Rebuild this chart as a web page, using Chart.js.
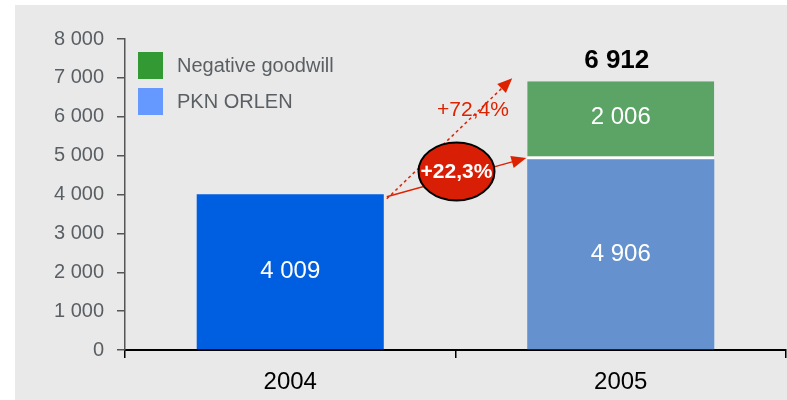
<!DOCTYPE html>
<html>
<head>
<meta charset="utf-8">
<script src="https://cdn.jsdelivr.net/npm/chart.js@4/dist/chart.umd.min.js"></script>
<style>
  html, body { margin: 0; padding: 0; background: #fff; }
  #wrap { width: 787px; height: 400px; }
</style>
</head>
<body>
<div id="wrap"><canvas id="chart" width="787" height="400"></canvas></div>
<script>
const years = ['2004', '2005']
const pknOrlen = [4009, 4906]
const negativeGoodwill = [null, 2006]
const legendNames = ['Negative goodwill', 'PKN ORLEN']
const growthTotal = '+72,4%'
const growthPkn = '+22,3%'

const fmt = (n) => String(n).replace(/\B(?=(\d{3})+(?!\d))/g, ' ')
const FONT = '"Liberation Sans", Arial, sans-serif'

const backgroundPlugin = {
    id: 'bg',
    beforeDraw: (chart) => {
        const ctx = chart.ctx
        ctx.save()
        ctx.fillStyle = '#e9e9e9'
        ctx.fillRect(15, 5, chart.width - 15, chart.height - 5)
        ctx.restore()
    }
}

const arrow = (ctx, x1, y1, x2, y2, dashed) => {
    const ang = Math.atan2(y2 - y1, x2 - x1)
    const head = 16
    ctx.save()
    ctx.strokeStyle = '#dd2200'
    ctx.fillStyle = '#dd2200'
    ctx.lineWidth = 1.5
    if (dashed) ctx.setLineDash([3, 3])
    ctx.beginPath()
    ctx.moveTo(x1, y1)
    ctx.lineTo(x2 - Math.cos(ang) * head * 0.8, y2 - Math.sin(ang) * head * 0.8)
    ctx.stroke()
    ctx.setLineDash([])
    ctx.beginPath()
    ctx.moveTo(x2, y2)
    ctx.lineTo(x2 - head * Math.cos(ang - 0.4), y2 - head * Math.sin(ang - 0.4))
    ctx.lineTo(x2 - head * Math.cos(ang + 0.4), y2 - head * Math.sin(ang + 0.4))
    ctx.closePath()
    ctx.fill()
    ctx.restore()
}

const labelsPlugin = {
    id: 'labels',
    afterDatasetsDraw: (chart) => {
        const ctx = chart.ctx
        const y = chart.scales.y
        const blue = chart.getDatasetMeta(0).data
        const green = chart.getDatasetMeta(1).data
        ctx.save()
        ctx.textAlign = 'center'
        ctx.textBaseline = 'middle'

        // values inside bars
        ctx.fillStyle = '#ffffff'
        ctx.font = '24px ' + FONT
        pknOrlen.forEach((v, i) => {
            const bar = blue[i]
            ctx.fillText(fmt(v), bar.x, (bar.y + bar.base) / 2)
        })
        negativeGoodwill.forEach((v, i) => {
            if (v == null) return
            const bar = green[i]
            ctx.fillText(fmt(v), bar.x, (bar.y + bar.base) / 2 - 3)
        })

        // totals above stacks
        ctx.fillStyle = '#000000'
        ctx.font = 'bold 26px ' + FONT
        negativeGoodwill.forEach((v, i) => {
            if (v == null) return
            const bar = green[i]
            ctx.fillText(fmt(pknOrlen[i] + v), bar.x - 4, bar.y - 20)
        })

        // growth arrows
        const b0 = blue[0], b1 = blue[1]
        const x0 = b0.x + b0.width / 2 + 3
        const y0 = y.getPixelForValue(3940)
        const left1 = b1.x - b1.width / 2
        arrow(ctx, x0, y0 + 2, left1 - 15, y.getPixelForValue(6990), true)
        arrow(ctx, x0, y0, left1 - 1, y.getPixelForValue(4940), false)

        ctx.fillStyle = '#dd2200'
        ctx.font = '21px ' + FONT
        ctx.fillText(growthTotal, (x0 + left1) / 2 + 16, y.getPixelForValue(6170))

        // ellipse with pkn growth
        const cx = (b0.x + b0.width / 2 + left1) / 2 + 1
        const cy = y.getPixelForValue(4590)
        ctx.beginPath()
        ctx.ellipse(cx, cy, 38, 29, 0, 0, Math.PI * 2)
        ctx.fillStyle = '#d91e06'
        ctx.fill()
        ctx.lineWidth = 2
        ctx.strokeStyle = '#000000'
        ctx.stroke()
        ctx.fillStyle = '#ffffff'
        ctx.font = 'bold 21px ' + FONT
        ctx.fillText(growthPkn, cx, cy + 1)

        // legend
        const legendColors = ['#339933', '#6699ff']
        ctx.textAlign = 'left'
        ctx.font = '20px ' + FONT
        legendNames.forEach((name, i) => {
            const top = 52 + i * 36
            ctx.fillStyle = legendColors[i]
            ctx.fillRect(138, top, 25, 27)
            ctx.fillStyle = '#5a5f63'
            ctx.fillText(name, 177, top + 14)
        })
        ctx.restore()
    }
}

new Chart(document.getElementById('chart'), {
    type: 'bar',
    data: {
        labels: years,
        datasets: [
            {
                label: legendNames[1],
                data: pknOrlen,
                backgroundColor: ['#005ee0', '#6592ce'],
                borderWidth: 0
            },
            {
                label: legendNames[0],
                data: negativeGoodwill,
                backgroundColor: '#5ca466',
                borderColor: '#ffffff',
                borderWidth: { top: 0, left: 0, right: 0, bottom: 3 },
                borderSkipped: false
            }
        ]
    },
    options: {
        responsive: false,
        animation: false,
        datasets: { bar: { categoryPercentage: 1, barPercentage: 0.566 } },
        layout: { padding: { top: 39, right: 1, left: 0, bottom: 0 } },
        plugins: { legend: { display: false }, tooltip: { enabled: false } },
        scales: {
            x: {
                stacked: true,
                afterFit: (s) => { s.height = 50 },
                grid: { display: true, drawOnChartArea: false, offset: true, tickLength: 8, color: '#000', lineWidth: 1.5 },
                border: { color: '#000', width: 2 },
                ticks: { color: '#000', font: { family: FONT, size: 24 }, padding: 10 }
            },
            y: {
                stacked: true,
                min: 0,
                max: 8000,
                afterFit: (s) => { s.width = 125 },
                grid: { display: true, drawOnChartArea: false, tickLength: 8, color: '#555', lineWidth: 1.5 },
                border: { color: '#555', width: 1.5 },
                ticks: {
                    stepSize: 1000,
                    color: '#5a5f63',
                    padding: 13,
                    font: { family: FONT, size: 20 },
                    callback: (v) => fmt(v)
                }
            }
        }
    },
    plugins: [backgroundPlugin, labelsPlugin]
})
</script>
</body>
</html>
